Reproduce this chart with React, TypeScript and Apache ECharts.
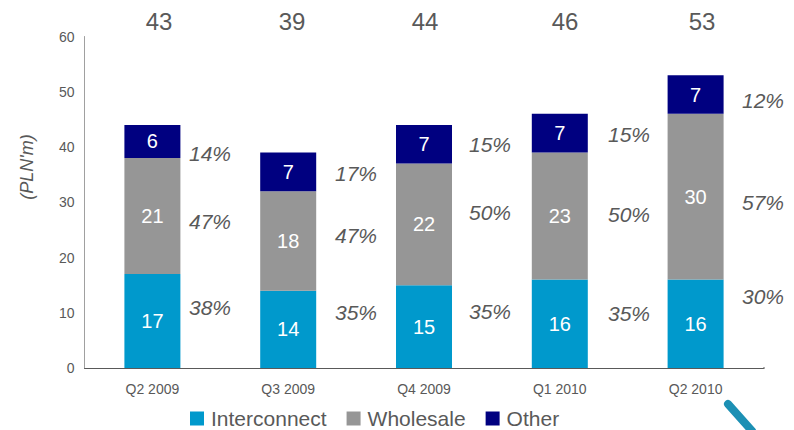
import React, { useEffect, useRef } from "react";
import * as echarts from "echarts";

const quarters = ["Q2 2009", "Q3 2009", "Q4 2009", "Q1 2010", "Q2 2010"];
const interconnect = [17, 14, 15, 16, 16];
const wholesale = [21, 18, 22, 23, 30];
const other = [6, 7, 7, 7, 7];
const totals = [43, 39, 44, 46, 53];
const interconnectShare = ["38%", "35%", "35%", "35%", "30%"];
const wholesaleShare = ["47%", "47%", "50%", "50%", "57%"];
const otherShare = ["14%", "17%", "15%", "15%", "12%"];

// Placement of the free-standing annotations, per quarter.
const totalX = [159, 292, 425, 565, 702];
const shareX = [210, 356, 490, 629, 763];
const interconnectShareY = [307, 312, 311, 313, 296];
const wholesaleShareY = [221, 235, 212, 214, 202];
const otherShareY = [153, 173, 144, 134, 100];

const FONT = "'Liberation Sans', Arial, sans-serif";
const INK = "#595959";

const stacked = (name: string, data: number[], color: string) => ({
  name,
  type: "bar",
  stack: "revenue",
  data,
  barWidth: 56,
  itemStyle: { color },
  label: {
    show: true,
    position: "inside",
    color: "#ffffff",
    fontSize: 20,
    fontFamily: FONT,
  },
});

const note = (text: string, x: number, y: number, fontSize: number, fontStyle = "normal") => ({
  type: "text",
  style: {
    text,
    x,
    y,
    align: "center",
    verticalAlign: "middle",
    fontSize,
    fontStyle,
    fontFamily: FONT,
    fill: INK,
  },
});

export default function App() {
  const ref = useRef<HTMLDivElement>(null);

  useEffect(() => {
    const chart = echarts.init(ref.current!, undefined, { renderer: "svg" });
    const shares = [
      ...interconnectShare.map((t, i) => note(t, shareX[i], interconnectShareY[i], 21, "italic")),
      ...wholesaleShare.map((t, i) => note(t, shareX[i], wholesaleShareY[i], 21, "italic")),
      ...otherShare.map((t, i) => note(t, shareX[i], otherShareY[i], 21, "italic")),
    ];
    chart.setOption({
      animation: false,
      backgroundColor: "#ffffff",
      grid: { left: 84.5, right: 30.5, top: 36.5, bottom: 62, containLabel: false },
      legend: {
        left: 185,
        top: 403,
        itemWidth: 14,
        itemHeight: 14,
        itemGap: 20,
        icon: "rect",
        selectedMode: false,
        textStyle: { fontSize: 21, color: INK, fontFamily: FONT, padding: [0, 0, 0, 2] },
        data: ["Interconnect", "Wholesale", "Other"],
      },
      xAxis: {
        type: "category",
        data: quarters,
        axisTick: { show: false },
        axisLine: { lineStyle: { color: INK, width: 1 } },
        axisLabel: { color: INK, fontSize: 14, fontFamily: FONT, margin: 14 },
      },
      yAxis: {
        type: "value",
        min: 0,
        max: 60,
        interval: 10,
        splitLine: { show: false },
        axisTick: { show: false },
        axisLine: { show: true, lineStyle: { color: "#a0a0a0", width: 1 } },
        axisLabel: { color: INK, fontSize: 14, fontFamily: FONT, margin: 10 },
      },
      series: [
        stacked("Interconnect", interconnect, "#0099cc"),
        stacked("Wholesale", wholesale, "#969696"),
        stacked("Other", other, "#000080"),
      ],
      graphic: [
        ...totals.map((t, i) => note(String(t), totalX[i], 21, 24)),
        ...shares,
        {
          type: "text",
          x: 27,
          y: 167,
          rotation: Math.PI / 2,
          style: {
            text: "(PLN'm)",
            align: "center",
            verticalAlign: "middle",
            fontSize: 18,
            fontStyle: "italic",
            fontFamily: FONT,
            fill: INK,
          },
        },
        {
          type: "line",
          shape: { x1: 763, y1: 368, x2: 765, y2: 368 },
          style: { stroke: INK, lineWidth: 1 },
        },
        {
          type: "line",
          shape: { x1: 728, y1: 404, x2: 752, y2: 431 },
          style: { stroke: "#1c90b4", lineWidth: 8, lineCap: "round" },
        },
      ],
    });
    return () => chart.dispose();
  }, []);

  return (
    <div
      ref={ref}
      style={{ position: "absolute", left: 0, top: 0, width: 794, height: 430 }}
    />
  );
}
